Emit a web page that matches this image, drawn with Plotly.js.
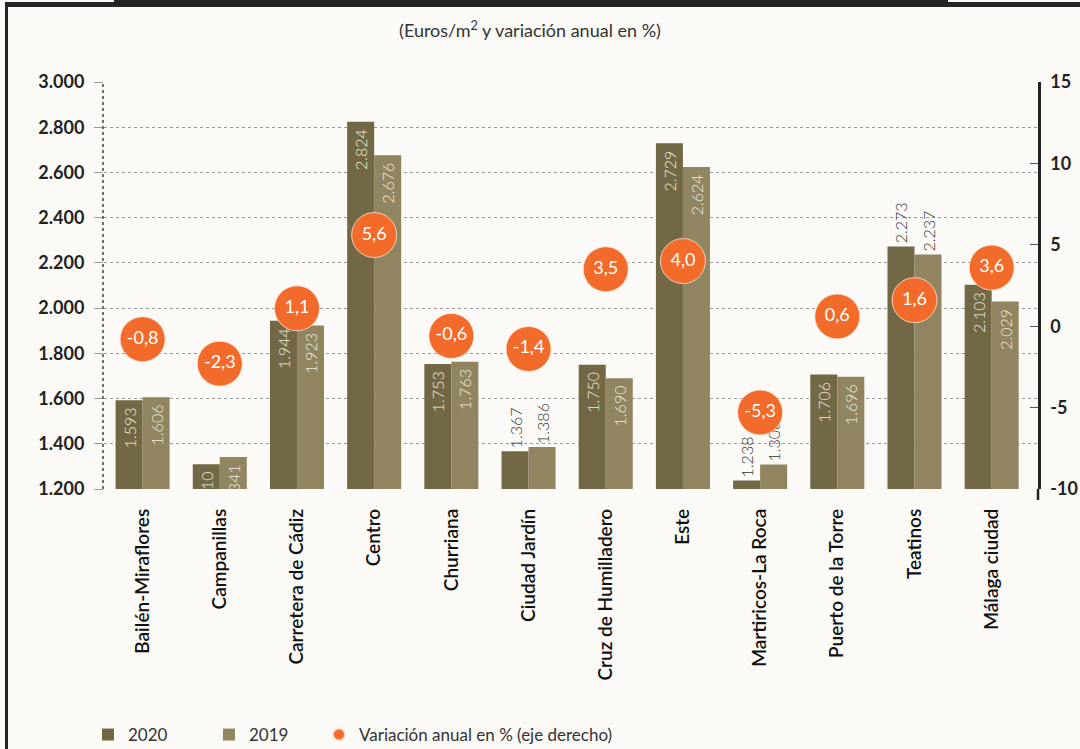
<!DOCTYPE html>
<html>
<head>
<meta charset="utf-8">
<script src="https://cdn.plot.ly/plotly-3.0.1.min.js"></script>
<style>
  html, body { margin: 0; padding: 0; background: #fbfaf6; }
  #chart { width: 1080px; height: 749px; }
</style>
</head>
<body>
<div id="chart"></div>
<script>
const categories = ["Bailén-Miraflores", "Campanillas", "Carretera de Cádiz", "Centro", "Churriana",
  "Ciudad Jardín", "Cruz de Humilladero", "Este", "Martiricos-La Roca", "Puerto de la Torre",
  "Teatinos", "Málaga ciudad"];
const values2020 = [1593, 1310, 1944, 2824, 1753, 1367, 1750, 2729, 1238, 1706, 2273, 2103];
const values2019 = [1606, 1341, 1923, 2676, 1763, 1386, 1690, 2624, 1308, 1696, 2237, 2029];
const variation = [-0.8, -2.3, 1.1, 5.6, -0.6, -1.4, 3.5, 4.0, -5.3, 0.6, 1.6, 3.6];
const labelPos2020 = ["inside","inside","inside","inside","inside","outside","inside","inside","outside","inside","outside","inside"];
const labelPos2019 = ["inside","inside","inside","inside","inside","outside","inside","inside","outside","inside","outside","inside"];
const rightTickVals = [-10, -5, 0, 5, 10, 15];
const rightTickText = ["-10", "-5", "0", "5", "10", "15"];

const W = 1080, H = 749;
const M = { l: 104, r: 42, t: 82, b: 260 };
const PW = W - M.l - M.r, PH = H - M.t - M.b;
const px = x => (x - M.l) / PW;
const py = y => (H - M.b - y) / PH;

const FONT = "Lato, 'Open Sans', sans-serif";

const barCommon = {
  type: "bar",
  x: categories,
  texttemplate: "%{y:,.0f}\u00a0",
  textangle: -90,
  insidetextanchor: "end",
  constraintext: "none",
  insidetextfont: { family: FONT, size: 16, color: "#efebdf", weight: 300 },
  outsidetextfont: { family: FONT, size: 16, color: "#333333", weight: 300 },
  hoverinfo: "x+y",
  cliponaxis: true
};

const traces = [
  Object.assign({}, barCommon, {
    name: "2020", y: values2020, textposition: labelPos2020,
    marker: { color: "#736846" }, legendwidth: 76
  }),
  Object.assign({}, barCommon, {
    name: "2019", y: values2019, textposition: labelPos2019,
    marker: { color: "#908560" }, legendwidth: 65
  }),
  {
    type: "scatter", mode: "markers+text",
    name: "Variación anual en % (eje derecho)",
    x: categories, y: variation, yaxis: "y2",
    texttemplate: "%{y:.1f}",
    textposition: "middle center",
    textfont: { family: FONT, size: 18, color: "#ffffff" },
    marker: { size: 45, color: "#f26b2a", line: { color: "rgba(255,230,215,0.8)", width: 1 } },
    cliponaxis: false
  }
];

const layout = {
  width: W, height: H,
  paper_bgcolor: "#fbfaf6",
  plot_bgcolor: "#fbfaf6",
  separators: ",.",
  font: { family: FONT, color: "#222222" },
  margin: M,
  barmode: "group",
  bargap: 0.3,
  bargroupgap: 0,
  showlegend: true,
  title: {
    text: "(Euros/m<sup>2</sup> y variación anual en %)",
    xref: "container", yref: "container",
    x: 530 / W, xanchor: "center",
    y: 1 - 31 / H, yanchor: "middle",
    font: { family: FONT, size: 18, color: "#333333" }
  },
  xaxis: {
    type: "category",
    range: [-0.5, 11.6],
    tickangle: -90,
    ticks: "",
    showline: false,
    showgrid: false,
    automargin: false,
    ticklabelstandoff: 15,
    tickfont: { family: FONT, size: 19, color: "#111111", weight: 600 }
  },
  yaxis: {
    range: [1200, 3000],
    dtick: 200,
    tick0: 1200,
    tickformat: ",.0f",
    showgrid: true,
    gridcolor: "#9a9a9a",
    griddash: "dot",
    gridwidth: 1,
    ticks: "outside",
    ticklen: 9,
    tickcolor: "#9a9a9a",
    ticklabelstandoff: 6,
    zeroline: false,
    showline: false,
    automargin: false,
    tickfont: { family: FONT, size: 18, color: "#222222", weight: 700 }
  },
  yaxis2: {
    overlaying: "y",
    side: "right",
    range: [-10, 15],
    tickvals: rightTickVals,
    ticktext: rightTickText,
    showgrid: false,
    zeroline: false,
    showline: true,
    linecolor: "#222222",
    linewidth: 2.5,
    ticks: "inside",
    ticklen: 8,
    tickcolor: "#555555",
    tickwidth: 1,
    ticklabelstandoff: 6,
    automargin: false,
    tickfont: { family: FONT, size: 18, color: "#222222", weight: 700 }
  },
  legend: {
    orientation: "h",
    xref: "container", yref: "container",
    x: 88 / W, xanchor: "left",
    y: 1 - 735 / H, yanchor: "middle",
    bgcolor: "rgba(0,0,0,0)",
    font: { family: FONT, size: 17, color: "#333333" },
    itemsizing: "constant",
    traceorder: "normal"
  },
  shapes: [
    { type: "line", xref: "paper", yref: "paper", x0: px(103), x1: px(103), y0: 0, y1: 1,
      line: { color: "#444444", width: 1.5, dash: "dot" } },
    { type: "line", xref: "paper", yref: "paper", x0: 1, x1: 1, y0: py(500), y1: 0,
      line: { color: "#222222", width: 2.5 } },
    { type: "rect", xref: "paper", yref: "paper", x0: px(5), x1: px(1080), y0: py(7), y1: py(2),
      line: { width: 0 }, fillcolor: "#262324", layer: "above" },
    { type: "rect", xref: "paper", yref: "paper", x0: px(114), x1: px(948), y0: py(7), y1: py(0),
      line: { width: 0 }, fillcolor: "#262324", layer: "above" },
    { type: "rect", xref: "paper", yref: "paper", x0: px(5), x1: px(8), y0: py(749), y1: py(2),
      line: { width: 0 }, fillcolor: "#262324", layer: "above" }
  ]
};

Plotly.newPlot("chart", traces, layout, { displayModeBar: false, responsive: false });
</script>
</body>
</html>
